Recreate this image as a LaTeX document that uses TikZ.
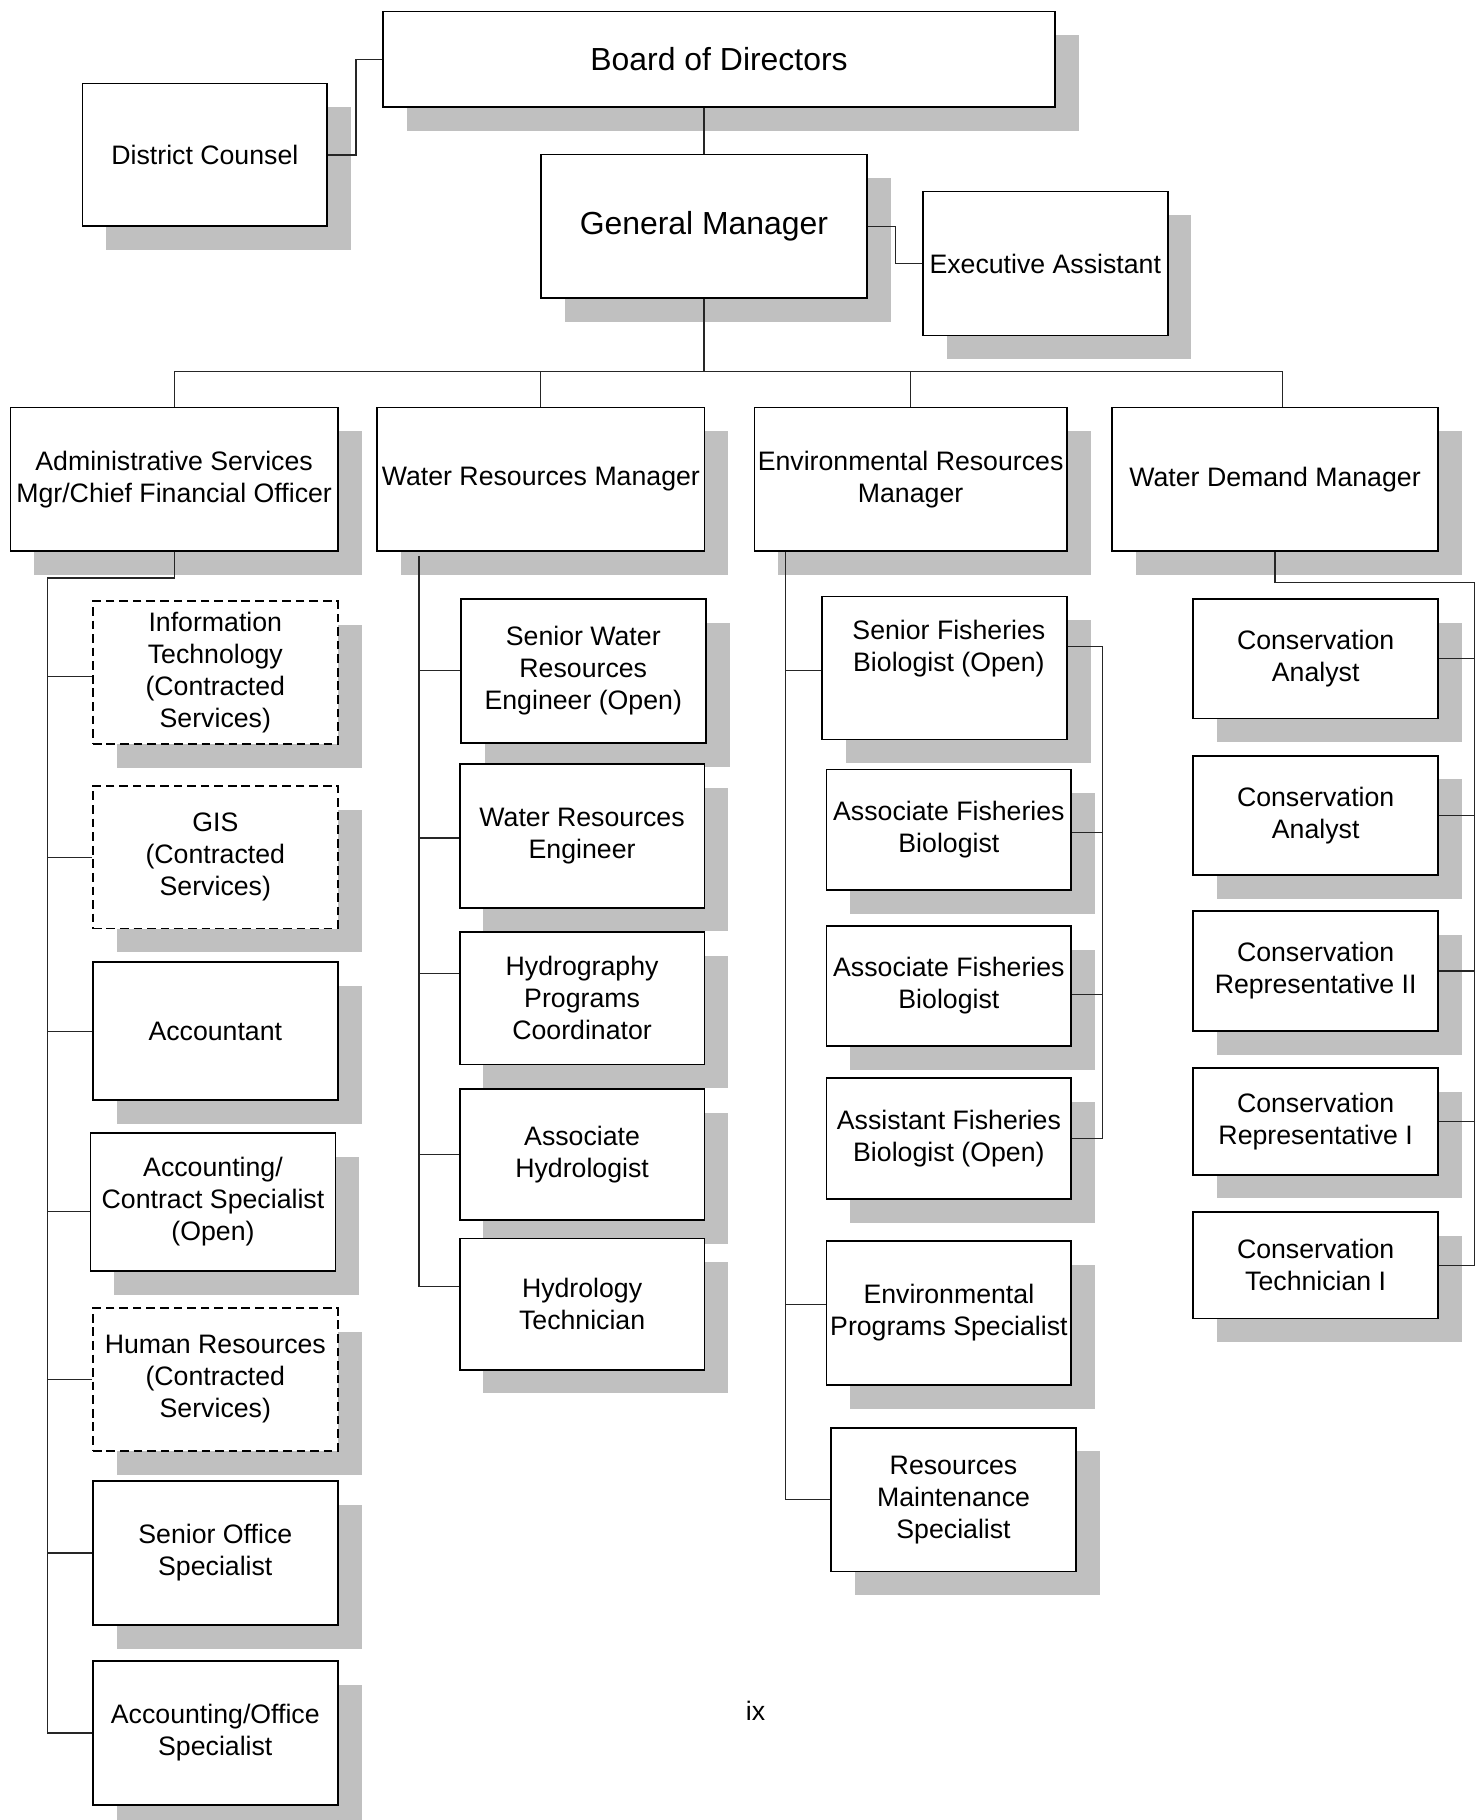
\documentclass[tikz,border=0pt]{standalone}
\usepackage{fontspec}
\setmainfont{Liberation Sans}
\usetikzlibrary{shadows}
\definecolor{shadowgrey}{RGB}{192,192,192}
\begin{document}
\begin{tikzpicture}[x=1pt,y=-1pt,
  orgbox/.style={draw=black, line width=1.5pt, fill=white, inner sep=0pt, align=center,
    font=\fontsize{23}{27.6}\selectfont,
    drop shadow={shadow xshift=20.5pt,shadow yshift=-20.5pt,fill=shadowgrey,opacity=1}},
  dashbox/.style={orgbox, dash pattern=on 7.5pt off 4.2pt},
  bigtext/.style={font=\fontsize{27.5}{33}\selectfont},
  conn/.style={draw=black!85, line width=1pt}]
\useasboundingbox (0,0) rectangle (1275,1568);
\fill[white] (0,0) rectangle (1275,1568);

% top levels
\node[orgbox,bigtext,minimum width=579pt,minimum height=82pt] (board) at (619.5,51) {Board of Directors};
\node[orgbox,minimum width=211pt,minimum height=123pt] (counsel) at (176.5,133.5) {District Counsel};
\node[orgbox,bigtext,minimum width=281pt,minimum height=124pt] (gm) at (606.5,195) {General Manager};
\node[orgbox,minimum width=211pt,minimum height=124pt] (ea) at (900.5,227) {Executive Assistant};

% managers
\node[orgbox,minimum width=282pt,minimum height=124pt] (admin) at (150,413) {Administrative Services\\Mgr/Chief Financial Officer};
\node[orgbox,minimum width=282pt,minimum height=124pt] (wrm) at (466,413) {Water Resources Manager};
\node[orgbox,minimum width=269pt,minimum height=124pt] (erm) at (784.5,413) {Environmental Resources\\Manager};
\node[orgbox,minimum width=281pt,minimum height=124pt] (wdm) at (1098.5,413) {Water Demand Manager};

% admin staff
\node[dashbox,minimum width=211pt,minimum height=123pt] (it) at (185.5,579.5) {Information\\Technology\\(Contracted\\Services)};
\node[dashbox,minimum width=211pt,minimum height=123pt] (gis) at (185.5,738.5) {GIS\\(Contracted\\Services)};
\node[orgbox,minimum width=211pt,minimum height=119pt] (acct) at (185.5,888.5) {Accountant};
\node[orgbox,minimum width=211pt,minimum height=119pt] (acs) at (183.5,1035.5) {Accounting/\\Contract Specialist\\(Open)};
\node[dashbox,minimum width=211pt,minimum height=123pt] (hr) at (185.5,1188.5) {Human Resources\\(Contracted\\Services)};
\node[orgbox,minimum width=211pt,minimum height=124pt] (sos) at (185.5,1338) {Senior Office\\Specialist};
\node[orgbox,minimum width=211pt,minimum height=124pt] (aos) at (185.5,1493) {Accounting/Office\\Specialist};

% water resources staff
\node[orgbox,minimum width=211pt,minimum height=124pt] (swre) at (502.5,578) {Senior Water\\Resources\\Engineer (Open)};
\node[orgbox,minimum width=211pt,minimum height=124pt] (wre) at (501.5,720) {Water Resources\\Engineer};
\node[orgbox,minimum width=211pt,minimum height=114pt] (hpc) at (501.5,860) {Hydrography\\Programs\\Coordinator};
\node[orgbox,minimum width=211pt,minimum height=113pt] (ah) at (501.5,994.5) {Associate\\Hydrologist};
\node[orgbox,minimum width=211pt,minimum height=113pt] (ht) at (501.5,1123.5) {Hydrology\\Technician};

% environmental staff
\node[orgbox,minimum width=211pt,minimum height=123pt] (sfb) at (813.5,575.5) {};
\node[align=center,inner sep=0pt,font=\fontsize{23}{27.6}\selectfont] (sfbtext) at ([xshift=4pt,yshift=17pt]sfb.center) {Senior Fisheries\\Biologist (Open)};
\node[orgbox,minimum width=211pt,minimum height=104pt] (afb1) at (817.5,715) {Associate Fisheries\\Biologist};
\node[orgbox,minimum width=211pt,minimum height=103pt] (afb2) at (817.5,849.5) {Associate Fisheries\\Biologist};
\node[orgbox,minimum width=211pt,minimum height=104pt] (asfb) at (817.5,981) {Assistant Fisheries\\Biologist (Open)};
\node[orgbox,minimum width=211pt,minimum height=124pt] (eps) at (817.5,1131) {Environmental\\Programs Specialist};
\node[orgbox,minimum width=211pt,minimum height=124pt] (rms) at (821.5,1292) {Resources\\Maintenance\\Specialist};

% water demand staff
\node[orgbox,minimum width=211pt,minimum height=103pt] (ca1) at (1133.5,567.5) {Conservation\\Analyst};
\node[orgbox,minimum width=211pt,minimum height=103pt] (ca2) at (1133.5,702.5) {Conservation\\Analyst};
\node[orgbox,minimum width=211pt,minimum height=103pt] (cr2) at (1133.5,836.5) {Conservation\\Representative II};
\node[orgbox,minimum width=211pt,minimum height=92pt] (cr1) at (1133.5,966) {Conservation\\Representative I};
\node[orgbox,minimum width=211pt,minimum height=92pt] (ct1) at (1133.5,1090) {Conservation\\Technician I};

\node[font=\fontsize{23}{27.6}\selectfont] (pg) at (651,1474) {ix};

% connectors: top
\draw[conn] (counsel.east) -- ++(24,0) |- (board.west);
\draw[conn] (board.south -| gm.north) -- (gm.north);
\draw[conn] (gm.east) -- ++(24,0) |- (ea.west);
\coordinate (bus) at (606.5,320);
\draw[conn] (gm.south) -- (bus);
\draw[conn] (admin.north) |- (bus);
\draw[conn] (wrm.north) |- (bus);
\draw[conn] (erm.north) |- (bus);
\draw[conn] ([xshift=6.5pt]wdm.north) |- (bus);

% admin spine
\coordinate (aspine) at (41,498);
\draw[conn] (admin.south) |- (aspine) -- (aspine |- aos.west) -- (aos.west);
\path ([yshift=-3.5pt]it.west) coordinate (itb);
\path ([yshift=-8.5pt]acs.west) coordinate (acsb);
\draw[conn] (itb) -- (itb -| aspine);
\draw[conn] (gis.west) -- (gis.west -| aspine);
\draw[conn] (acct.west) -- (acct.west -| aspine);
\draw[conn] (acsb) -- (acsb -| aspine);
\draw[conn] (hr.west) -- (hr.west -| aspine);
\draw[conn] (sos.west) -- (sos.west -| aspine);

% water resources spine
\coordinate (wx) at (361,479);
\path ([yshift=-2pt]wre.west) coordinate (wreb);
\path ([yshift=21pt]hpc.west) coordinate (hpcb);
\path ([yshift=15.5pt]ht.west) coordinate (htb);
\draw[conn] (wx) -- (wx |- htb) -- (htb);
\draw[conn] (swre.west) -- (swre.west -| wx);
\draw[conn] (wreb) -- (wreb -| wx);
\draw[conn] (hpcb) -- (hpcb -| wx);
\draw[conn] (ah.west) -- (ah.west -| wx);

% environmental spine
\coordinate (ex) at (677,0);
\path ([yshift=-2.5pt]sfb.west) coordinate (sfbb);
\path ([yshift=7pt]eps.west) coordinate (epsb);
\draw[conn] (erm.south -| ex) -- (ex |- rms.west) -- (rms.west);
\draw[conn] (sfbb) -- (sfbb -| ex);
\draw[conn] (epsb) -- (epsb -| ex);

% fisheries group
\coordinate (fx) at (950,0);
\path ([yshift=18.5pt]sfb.east) coordinate (sfbr);
\path ([yshift=-2pt]afb1.east) coordinate (afb1r);
\path ([yshift=-7.5pt]afb2.east) coordinate (afb2r);
\draw[conn] (sfbr) -- (sfbr -| fx) -- (fx |- asfb.east) -- (asfb.east);
\draw[conn] (afb1r) -- (afb1r -| fx);
\draw[conn] (afb2r) -- (afb2r -| fx);

% water demand spine
\coordinate (dspine) at (1270,502);
\draw[conn] (wdm.south) |- (dspine) -- (dspine |- ct1.east) -- (ct1.east);
\draw[conn] (ca1.east) -- (ca1.east -| dspine);
\draw[conn] (ca2.east) -- (ca2.east -| dspine);
\draw[conn] (cr2.east) -- (cr2.east -| dspine);
\draw[conn] (cr1.east) -- (cr1.east -| dspine);
\end{tikzpicture}
\end{document}
